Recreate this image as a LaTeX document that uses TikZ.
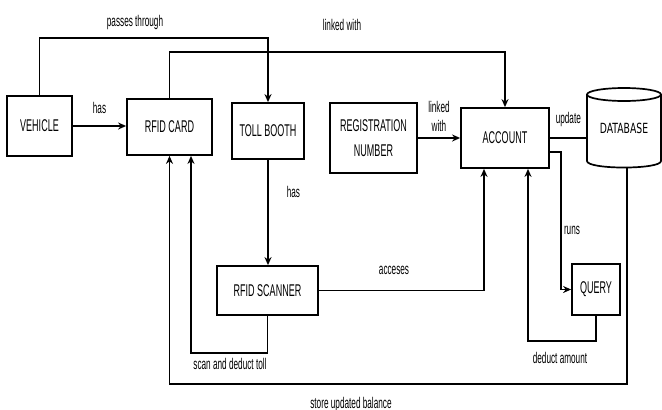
\documentclass[tikz,border=0pt]{standalone}
\usepackage{fontspec}
\newfontfamily\diafont[FakeStretch=0.53]{Liberation Sans}
\newfontfamily\dbfont[FakeStretch=0.66]{DejaVu Sans}
\usetikzlibrary{positioning,arrows.meta}

\begin{document}
\begin{tikzpicture}[x=1pt, y=-1pt,
  blk/.style={draw, line width=1.8pt, inner sep=2pt, align=center, font=\diafont\fontsize{17}{25}\selectfont},
  lab/.style={font=\diafont\fontsize{15.5}{19}\selectfont, inner sep=0pt, align=center},
  conn/.style={line width=1.7pt},
  >={Stealth[length=8pt, width=7pt]}]
\useasboundingbox (0,0) rectangle (662,410);
% boxes
\node[blk, minimum width=65pt, minimum height=60pt] (veh) at (39.5,126) {VEHICLE};
\node[blk, minimum width=85pt, minimum height=56pt] (card) at (169.5,127) {RFID CARD};
\node[blk, minimum width=72pt, minimum height=56pt] (booth) at (268,131) {TOLL BOOTH};
\node[blk, minimum width=87pt, minimum height=70pt] (reg) at (373.5,138) {REGISTRATION\\NUMBER};
\node[blk, minimum width=88pt, minimum height=60pt] (acc) at (505,138) {ACCOUNT};
\node[blk, minimum width=101pt, minimum height=49pt] (scan) at (267.5,290.5) {RFID SCANNER};
\node[blk, minimum width=48pt, minimum height=51pt] (query) at (596,289.5) {QUERY};
% database cylinder
\node[minimum width=74pt, minimum height=80pt, inner sep=0pt, font=\dbfont\fontsize{14}{16}\selectfont] (db) at (624,128) {DATABASE};
\draw[conn] (624,94.5) ellipse[x radius=37, y radius=6.5];
\draw[conn] (587,94.5) -- (587,161) .. controls (587,169.7) and (661,169.7) .. (661,161) -- (661,94.5);
% connectors
\draw[conn, ->] (veh.east) -- (veh.east -| card.west) node[lab, midway, above=12pt] {has};
\draw[conn, ->] (veh.north) -- ++(0,-57) -| (booth.north);
\node[lab] at (135,22) {passes through};
\draw[conn, ->] (card.north) -- ++(0,-46) -| (acc.north);
\node[lab] at (342,25) {linked with};
\draw[conn, ->] (booth.south) -- (booth.south |- scan.north) node[lab, pos=.3, right=18pt] {has};
\draw[conn, ->] (reg.east) -- (acc.west) node[lab, midway, above=6pt] {linked\\with};
\draw[conn] (acc.east) -- (acc.east -| db.west) node[lab, midway, above=10pt] {update};
\draw[conn, ->] ([yshift=-14pt]acc.east) -- ++(11,0) |- (query.west);
\node[lab] at (572,230) {runs};
\draw[conn, ->] (query.south) -- ++(0,25) -| ([xshift=23pt]acc.south);
\node[lab] at (560,358) {deduct amount};
\draw[conn, ->] (scan.east) -| ([xshift=-21pt]acc.south);
\node[lab] at (394,270) {acceses};
\draw[conn, ->] (scan.south) -- ++(0,37) -| ([xshift=21.5pt]card.south);
\node[lab] at (230,364) {scan and deduct toll};
\draw[conn, ->] ([xshift=3pt]db.south) -- ++(0,216) -| (card.south);
\node[lab] at (351,404) {store updated balance};
\end{tikzpicture}
\end{document}
